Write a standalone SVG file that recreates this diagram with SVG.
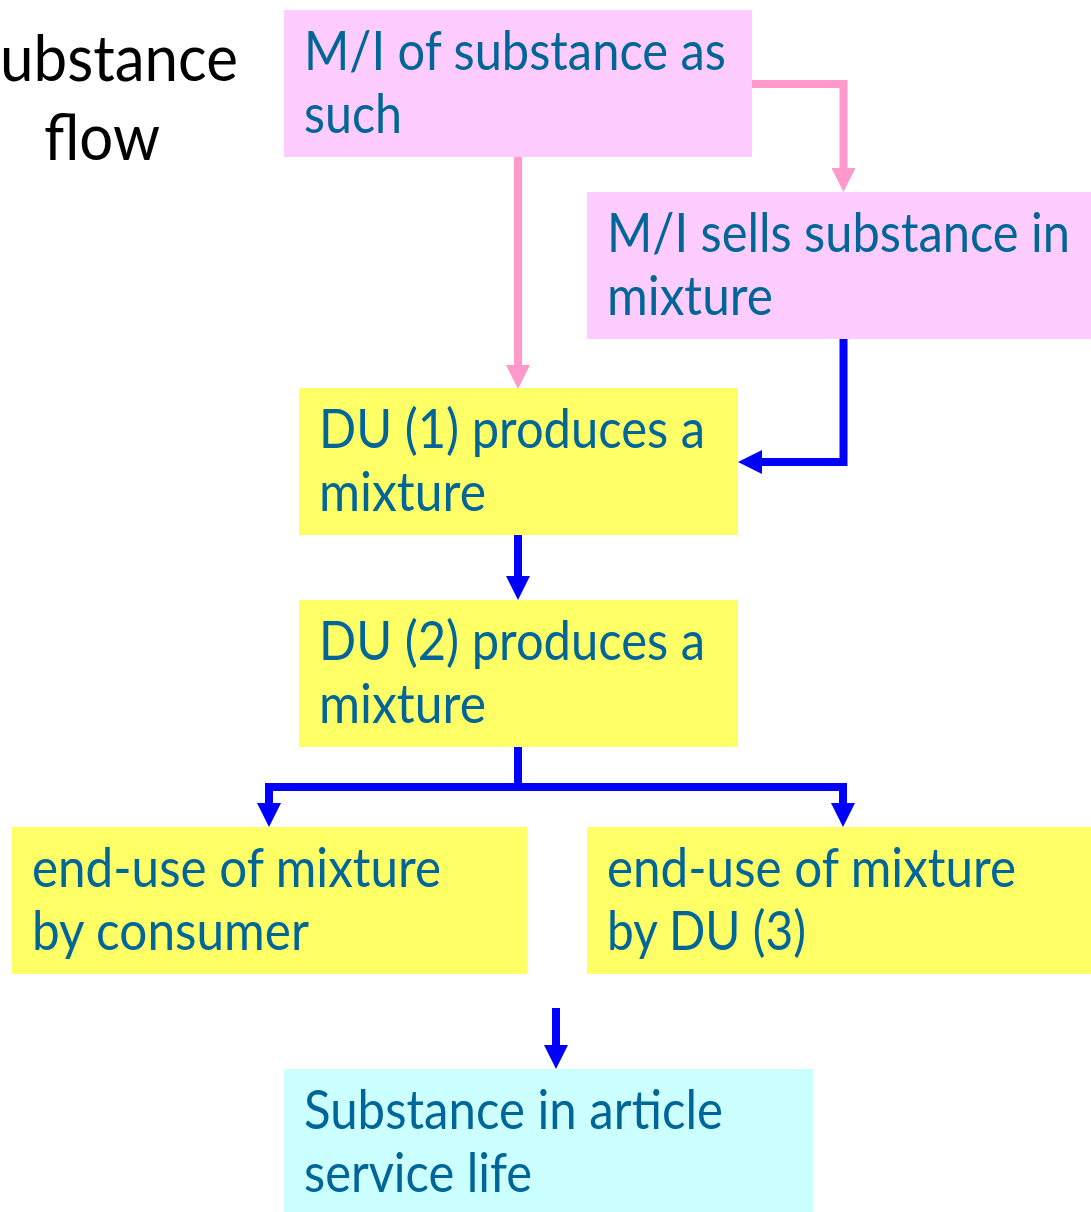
<svg xmlns="http://www.w3.org/2000/svg" width="1091" height="1212" viewBox="0 0 1091 1212">
<style>
.pink{fill:#FFCCFF}
.yellow{fill:#FFFF66}
.cyan{fill:#CCFFFF}
.lbl{font-family:Lato,"Liberation Sans",sans-serif;font-size:54px;fill:#006699}
.title{font-family:Lato,"Liberation Sans",sans-serif;font-size:64px;fill:#000000}
.pc{fill:none;stroke:#FF99CC;stroke-width:8}
.bc{fill:none;stroke:#0000FF;stroke-width:8}
</style>
<defs>
<marker id="ap" markerUnits="userSpaceOnUse" markerWidth="24" markerHeight="24" refX="0" refY="12" orient="auto" viewBox="0 0 24 24"><path d="M0,0 L24,12 L0,24 z" fill="#FF99CC"/></marker>
<marker id="ab" markerUnits="userSpaceOnUse" markerWidth="24" markerHeight="24" refX="0" refY="12" orient="auto" viewBox="0 0 24 24"><path d="M0,0 L24,12 L0,24 z" fill="#0000FF"/></marker>
</defs>
<rect width="1091" height="1212" fill="#FFFFFF"/>
<g id="title">
<text class="title" x="0" y="81" textLength="238" lengthAdjust="spacingAndGlyphs">ubstance</text>
<text class="title" x="44" y="160" textLength="116" lengthAdjust="spacingAndGlyphs">flow</text>
</g>
<g id="connectors">
<path class="pc" d="M518,157 V365" marker-end="url(#ap)"/>
<path class="pc" d="M752,84 H843.5 V168" marker-end="url(#ap)"/>
<path class="bc" d="M843.5,339 V462 H762" marker-end="url(#ab)"/>
<path class="bc" d="M518,535 V576" marker-end="url(#ab)"/>
<path class="bc" d="M518,747 V787"/>
<path class="bc" d="M269,803 V787 H843 V803"/>
<path class="bc" d="M269,787 V803" marker-end="url(#ab)"/>
<path class="bc" d="M843,787 V803" marker-end="url(#ab)"/>
<path class="bc" d="M556,1008 V1045" marker-end="url(#ab)"/>
</g>
<g id="n1">
<rect class="pink" x="284" y="10" width="468" height="147"/>
<text class="lbl" x="304" y="70" textLength="422" lengthAdjust="spacingAndGlyphs">M/I of substance as</text>
<text class="lbl" x="304" y="133" textLength="98" lengthAdjust="spacingAndGlyphs">such</text>
</g>
<g id="n2">
<rect class="pink" x="587" y="192" width="504" height="147"/>
<text class="lbl" x="607" y="252" textLength="463" lengthAdjust="spacingAndGlyphs">M/I sells substance in</text>
<text class="lbl" x="607" y="315" textLength="166" lengthAdjust="spacingAndGlyphs">mixture</text>
</g>
<g id="n3">
<rect class="yellow" x="299" y="388" width="439" height="147"/>
<text class="lbl" x="319" y="448" textLength="386" lengthAdjust="spacingAndGlyphs">DU (1) produces a</text>
<text class="lbl" x="319" y="511" textLength="167" lengthAdjust="spacingAndGlyphs">mixture</text>
</g>
<g id="n4">
<rect class="yellow" x="299" y="600" width="439" height="147"/>
<text class="lbl" x="319" y="660" textLength="386" lengthAdjust="spacingAndGlyphs">DU (2) produces a</text>
<text class="lbl" x="319" y="723" textLength="167" lengthAdjust="spacingAndGlyphs">mixture</text>
</g>
<g id="n5">
<rect class="yellow" x="12" y="827" width="515" height="147"/>
<text class="lbl" x="32" y="887" textLength="409" lengthAdjust="spacingAndGlyphs">end-use of mixture</text>
<text class="lbl" x="32" y="950" textLength="277" lengthAdjust="spacingAndGlyphs">by consumer</text>
</g>
<g id="n6">
<rect class="yellow" x="587" y="827" width="504" height="147"/>
<text class="lbl" x="607" y="887" textLength="409" lengthAdjust="spacingAndGlyphs">end-use of mixture</text>
<text class="lbl" x="607" y="950" textLength="199" lengthAdjust="spacingAndGlyphs">by DU (3)</text>
</g>
<g id="n7">
<rect class="cyan" x="284" y="1069" width="529" height="143"/>
<text class="lbl" x="304" y="1129" textLength="419" lengthAdjust="spacingAndGlyphs">Substance in article</text>
<text class="lbl" x="304" y="1192" textLength="228" lengthAdjust="spacingAndGlyphs">service life</text>
</g>
</svg>
